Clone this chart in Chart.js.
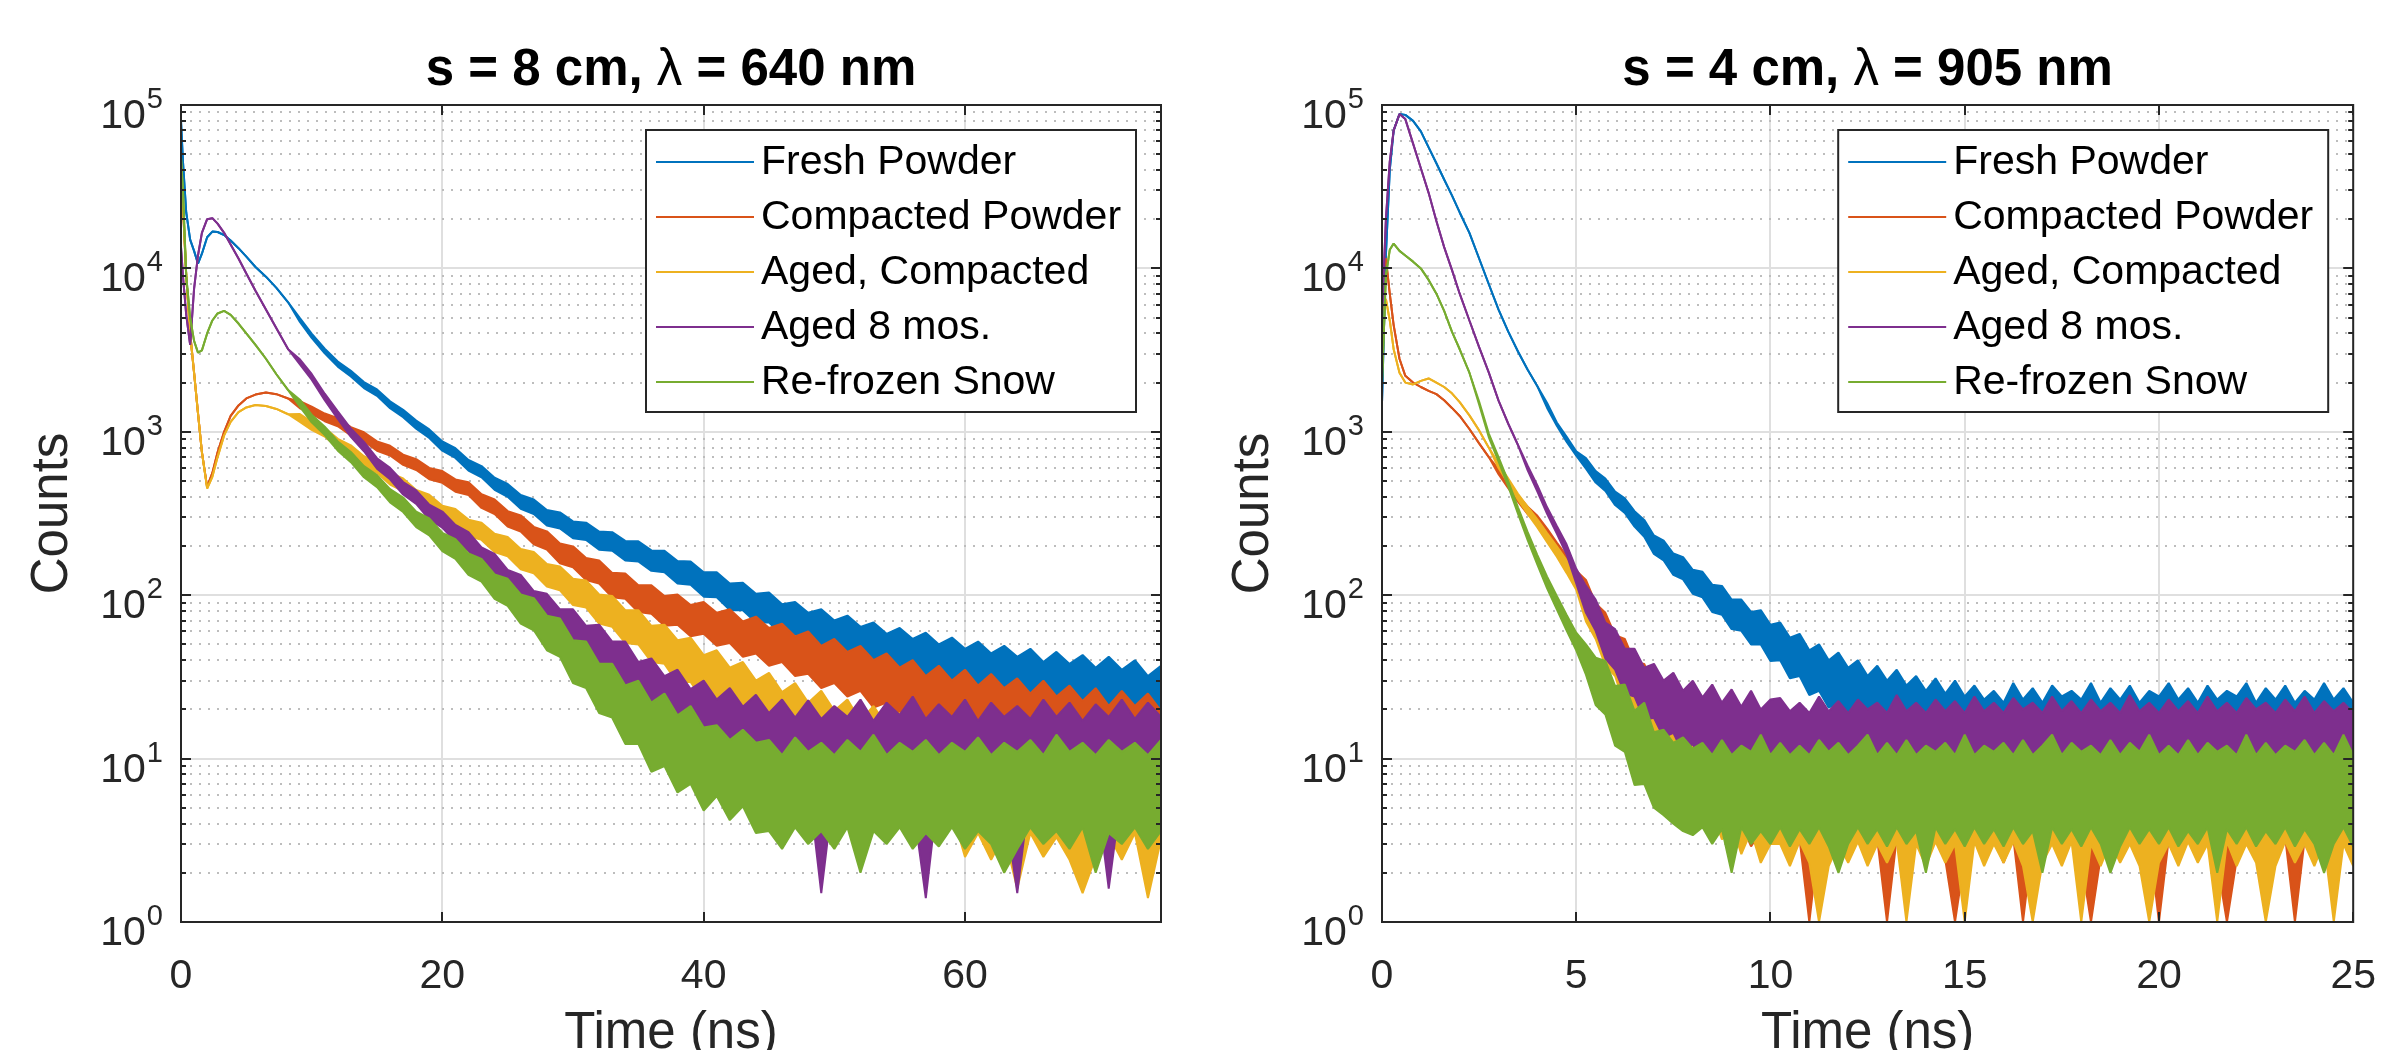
<!DOCTYPE html>
<html>
<head>
<meta charset="utf-8">
<title>Snow photon counts vs time</title>
<script src="https://cdn.jsdelivr.net/npm/chart.js@4.4.1/dist/chart.umd.min.js"></script>
<style>
  html, body { margin: 0; padding: 0; background: #fff; }
  .wrap { position: relative; width: 2406px; height: 1050px; overflow: hidden; }
  .panel { position: absolute; top: 0; width: 1203px; height: 1050px; }
  .panel canvas { display: block; }
  #panelL { left: 0; }
  #panelR { left: 1203px; }
</style>
</head>
<body>
<div class="wrap">
  <div class="panel" id="panelL"><canvas id="chartL" width="1203" height="1050"></canvas></div>
  <div class="panel" id="panelR"><canvas id="chartR" width="1203" height="1050"></canvas></div>
</div>
<script>
/* ============================================================
   Photon counts vs time for five snow samples, two panels.
   Each trace is kept as an upper / lower envelope of the noisy
   counts (identical where the curve is smooth).
   ============================================================ */

const seriesNames = ['Fresh Powder', 'Compacted Powder', 'Aged, Compacted', 'Aged 8 mos.', 'Re-frozen Snow'];
const seriesColors = ['#0072BD', '#D95319', '#EDB120', '#7E2F8E', '#77AC30'];
const yTickExps = [0, 1, 2, 3, 4, 5];

/* --- left panel: s = 8 cm, 640 nm (ns) --- */
const timeL = [0, 0.15, 0.4, 0.7, 1, 1.3, 1.6, 2, 2.4, 2.8, 3.3, 3.8, 4.4, 5, 5.7, 6.5, 7.3, 8.2,
  9.1, 10, 11, 12, 13, 14, 15, 16, 17, 18, 19, 20,
  21, 22, 23, 24, 25, 26, 27, 28, 29, 30, 31, 32, 33, 34, 35, 36, 37, 38, 39, 40,
  41, 42, 43, 44, 45, 46, 47, 48, 49, 50, 51, 52, 53, 54, 55, 56, 57, 58, 59, 60,
  61, 62, 63, 64, 65, 66, 67, 68, 69, 70, 71, 72, 73, 74, 75];

const freshHiL = [80000, 45000, 22000, 15000, 12800, 10700, 12300, 15500, 16800, 16700, 16000, 14800, 13300, 11800, 10200, 8900, 7600, 6200,
  4960, 3990, 3230, 2695, 2360, 2015, 1817, 1538, 1365, 1171, 1034, 873,
  794, 673, 617, 524, 480, 410, 385, 332, 321, 283, 278, 245, 243, 215, 214, 188, 187, 162, 161, 138,
  138, 118, 119, 102, 104, 88, 91, 78, 82, 70, 75, 64, 68, 58, 63, 54, 59, 50, 55, 47,
  52, 44, 49, 42, 47, 39, 45, 38, 43, 36, 42, 35, 40, 32, 37];
const freshLoL = [80000, 45000, 22000, 15000, 12800, 10700, 12300, 15500, 16800, 16700, 16000, 14800, 13300, 11800, 10200, 8900, 7600, 6200,
  4700, 3760, 3020, 2507, 2182, 1852, 1660, 1394, 1228, 1045, 916, 766,
  692, 579, 526, 441, 400, 338, 314, 267, 256, 223, 218, 190, 187, 163, 161, 141, 138, 118, 116, 98,
  97, 81, 81, 68, 68, 57, 58, 49, 50, 43, 45, 38, 40, 34, 36, 30, 33, 27, 30, 25,
  27, 23, 26, 21, 24, 20, 22, 18, 21, 17, 20, 16.5, 18.6, 15, 17];

const compactHiL = [30000, 24000, 9000, 4000, 2300, 1300, 750, 460, 560, 750, 1000, 1250, 1450, 1600, 1690, 1740, 1700, 1600,
  1538, 1427, 1293, 1210, 1068, 993, 873, 821, 725, 680, 601, 575,
  511, 491, 415, 385, 327, 308, 262, 246, 207, 199, 169, 163, 137, 136, 115, 115, 99, 101, 87, 91,
  78, 82, 69, 74, 63, 67, 56, 60, 49, 54, 45, 49, 40, 44, 36, 40, 32, 37, 30, 35,
  28, 33, 27, 31, 25, 30, 24, 28, 22.5, 27, 21, 26, 21, 25, 19.6];
const compactLoL = [30000, 24000, 9000, 4000, 2300, 1300, 750, 460, 560, 750, 1000, 1250, 1450, 1600, 1690, 1740, 1700, 1600,
  1394, 1287, 1161, 1081, 949, 876, 766, 716, 627, 584, 513, 487,
  430, 410, 342, 314, 263, 245, 205, 190, 157, 148, 124, 118, 97, 95, 79, 77, 65, 66, 56, 58,
  49, 51, 42, 44, 37, 39, 32, 33, 27, 29, 24, 26, 20.5, 22, 17.3, 19, 15, 17, 13.5, 15,
  12, 14, 11.2, 12.7, 10.1, 11.9, 9.4, 11, 8.6, 10.3, 7.9, 9.4, 7.6, 9, 6.9];

const agedHiL = [32000, 26000, 9000, 4000, 2300, 1300, 750, 450, 530, 700, 950, 1150, 1320, 1410, 1460, 1440, 1380, 1280,
  1283, 1149, 1055, 905, 826, 709, 654, 560, 518, 441, 412, 353,
  337, 290, 278, 238, 227, 192, 184, 155, 150, 126, 123, 101, 99, 81, 81, 65, 66, 53, 55, 43,
  46, 36, 39, 30, 33.5, 25.5, 29, 22, 26, 19.6, 23, 17, 21, 16, 19, 14.7, 17.5, 13.5, 16, 11.5,
  14.5, 11.5, 15, 11, 14, 11.5, 15, 11, 14.5, 11, 14, 11.5, 15, 11, 14];
const agedLoL = [32000, 26000, 9000, 4000, 2300, 1300, 750, 450, 530, 700, 950, 1150, 1320, 1410, 1460, 1440, 1380, 1280,
  1150, 1026, 935, 795, 720, 613, 560, 475, 434, 366, 338, 286,
  271, 230, 218, 184, 173, 144, 136, 113, 107, 87, 84, 67, 64, 51, 50, 39, 38, 29, 29.5, 22.5,
  23, 17.3, 18.2, 13.5, 14.4, 10.5, 11.5, 8.3, 9.4, 6.9, 7.8, 5.5, 6.7, 4.8, 5.9, 4.2, 5.1, 3.5, 4.75, 2.5,
  3.5, 2.4, 3.4, 1.6, 3.5, 2.5, 3.3, 2.4, 1.5, 2.5, 3.4, 2.4, 3.5, 1.4, 3.2];

const aged8HiL = [13500, 9000, 5200, 3400, 7500, 12000, 16500, 20000, 20300, 18800, 16500, 14000, 11500, 9300, 7300, 5600, 4300, 3200,
  2778, 2260, 1711, 1334, 1047, 868, 689, 602, 493, 438, 358, 325,
  269, 243, 196, 179, 143, 133, 106, 102, 82, 82, 65, 66, 52, 52, 39, 41, 32, 35, 26.6, 30,
  23, 27, 20.8, 24.6, 19, 23, 17.8, 22.7, 17.5, 21, 18, 23, 17, 22, 18.5, 24, 17.5, 21.5, 18, 23,
  17, 22, 18, 21, 17.5, 23, 18, 22, 17, 21.5, 18, 23, 17.5, 22, 18];
const aged8LoL = [13500, 9000, 5200, 3400, 7500, 12000, 16500, 20000, 20300, 18800, 16500, 14000, 11500, 9300, 7300, 5600, 4300, 3200,
  2584, 2083, 1559, 1199, 930, 760, 594, 512, 413, 362, 291, 259,
  212, 187, 147, 131, 102, 92, 71, 67, 52, 50.5, 38.6, 38, 28.6, 27, 19.7, 19.9, 14.6, 15.2, 11.2, 12.3,
  9, 10.3, 7.6, 8.6, 6.5, 7.8, 5.8, 7.4, 1.5, 7, 5.5, 7.2, 6, 4.5, 7, 5.5, 1.4, 7, 5.8, 6.8,
  4.5, 7, 5.5, 1.5, 6.8, 5, 7.2, 5.5, 4.8, 7, 1.6, 6.5, 5.5, 7, 5.8];

const refrozenHiL = [48000, 30000, 9000, 5000, 3600, 3050, 3150, 4000, 4800, 5300, 5500, 5200, 4600, 4000, 3400, 2800, 2250, 1800,
  1572, 1272, 1075, 873, 753, 617, 543, 446, 396, 325, 295, 241,
  220, 180, 167, 134, 126, 101, 96, 75, 72, 53, 52, 38, 38, 28, 30, 22, 25, 18.4, 21, 15.5,
  16, 13, 15, 12.5, 13, 10.5, 13.5, 11, 12.5, 10.5, 13, 11, 14, 10.5, 12.5, 11, 13, 10.5, 12.5, 11,
  13.5, 10.5, 12.5, 11, 13, 10.5, 14, 11, 12.5, 10.5, 13, 11, 12.5, 10.5, 13];
const refrozenLoL = [48000, 30000, 9000, 5000, 3600, 3050, 3150, 4000, 4800, 5300, 5500, 5200, 4600, 4000, 3400, 2800, 2250, 1800,
  1424, 1142, 955, 766, 652, 527, 458, 370, 323, 261, 232, 186,
  167, 133, 121, 95, 86, 67, 61, 46, 42, 29, 27, 19, 17.8, 12.3, 12.3, 8.3, 9, 6.2, 7, 4.8,
  5.9, 4.2, 5.1, 3.5, 3.6, 2.8, 3.8, 3, 3.6, 2.8, 3.8, 2, 3.6, 3, 3.8, 2.8, 3.5, 2.9, 3.8, 2.8,
  3.6, 3, 2, 2.8, 3.8, 3, 3.6, 2.8, 3.8, 2, 3.5, 3, 3.8, 2.8, 3.6];

/* --- right panel: s = 4 cm, 905 nm (ns) --- */
const timeR = [0, 0.1, 0.2, 0.3, 0.45, 0.6, 0.8, 1, 1.2, 1.4, 1.6, 1.8, 2, 2.25, 2.5, 2.75, 3, 3.25, 3.5, 3.75, 4, 4.25, 4.5, 4.75, 5,
  5.25, 5.5, 5.75, 6, 6.25, 6.5, 6.75, 7, 7.25, 7.5, 7.75, 8, 8.25, 8.5, 8.75, 9, 9.25, 9.5, 9.75, 10,
  10.25, 10.5, 10.75, 11, 11.25, 11.5, 11.75, 12, 12.25, 12.5, 12.75, 13, 13.25, 13.5, 13.75, 14, 14.25, 14.5, 14.75, 15,
  15.25, 15.5, 15.75, 16, 16.25, 16.5, 16.75, 17, 17.25, 17.5, 17.75, 18, 18.25, 18.5, 18.75, 19, 19.25, 19.5, 19.75, 20,
  20.25, 20.5, 20.75, 21, 21.25, 21.5, 21.75, 22, 22.25, 22.5, 22.75, 23, 23.25, 23.5, 23.75, 24, 24.25, 24.5, 24.75, 25];

const freshHiR = [1500, 12000, 40000, 70000, 88000, 87000, 80000, 69000, 55000, 44000, 35000, 28000, 22000, 16500, 11500, 8000, 5600, 4100, 3100, 2400, 1900, 1500, 1140, 935, 760,
  690, 575, 518, 431, 391, 327, 289, 232, 216, 180, 171, 143, 139, 116, 114, 94, 94, 79, 81, 66,
  68, 55, 58, 46, 50, 40, 44.5, 36, 40, 32, 37, 30, 35, 28, 32, 26, 31, 25, 30, 24,
  28, 23, 26, 22, 29, 23, 27, 22, 28, 24, 26, 23, 29, 22, 27, 23, 28, 22, 26, 24,
  29, 23, 27, 22, 28, 23, 26, 24, 29, 22, 27, 23, 28, 22, 26, 23, 29, 23, 27, 22];
const freshLoR = [1500, 12000, 40000, 70000, 88000, 87000, 80000, 69000, 55000, 44000, 35000, 28000, 22000, 16500, 11500, 8000, 5600, 4100, 3100, 2400, 1900, 1400, 1090, 870, 715,
  594, 489, 434, 356, 319, 263, 228, 179, 163, 133, 125, 102, 97, 79, 76, 62, 60.5, 50, 50, 39.5,
  40, 31, 32, 24.5, 26, 20.5, 22, 17.3, 19, 15, 17, 13.5, 15, 12, 13.5, 10.8, 12.7, 10.1, 11.9, 9.4,
  11, 9, 11.5, 9, 10.5, 9.5, 11, 8.5, 11, 9, 10.5, 9, 11.5, 9, 10.5, 8.5, 11, 9.5, 11, 9,
  10.5, 9, 11.5, 8.5, 11, 9, 10.5, 9.5, 11, 9, 11, 8.5, 10.5, 9, 11.5, 9, 11, 9, 10.5, 9];

const compactHiR = [9000, 11500, 7000, 4500, 2800, 2200, 2000, 1880, 1780, 1700, 1560, 1400, 1250, 1040, 850, 700, 590, 490, 408, 348, 306, 256, 210, 174, 141,
  124, 89, 78, 57, 54, 39, 38, 28, 29, 20.8, 24, 17, 20.7, 14.7, 18, 12.8, 16.7, 12.2, 16,
  11, 11.5, 9, 12, 9.5, 11, 14, 9, 11.5, 9.5, 12,
  9, 11, 9.5, 14.5, 9, 11.5, 9.5, 11, 9, 12,
  9.5, 11, 14, 9, 11.5, 9.5, 12, 9, 11, 9.5,
  11.5, 9, 14, 9.5, 11, 9, 12, 9.5, 11, 9,
  11.5, 9.5, 12, 9, 14, 9.5, 11, 9, 11.5, 9.5,
  12, 9, 11, 9.5, 11.5, 9, 14, 9.5, 11, 9];
const compactLoR = [9000, 11500, 7000, 4500, 2800, 2200, 2000, 1880, 1780, 1700, 1560, 1400, 1250, 1040, 850, 700, 550, 452, 374, 313, 275, 225, 181, 147, 116,
  84, 57, 48, 33, 29, 19.7, 17.8, 12, 11.5, 7.6, 8.2, 5.5, 6.3, 4.2, 4.75, 3.2, 4, 2.9, 3.6,
  3.3, 3.3, 2.4, 3.2, 1, 3.3, 2.5, 3.2, 2.4, 3.3, 2.3,
  3.2, 1, 3.3, 2.4, 3.2, 2.5, 3.3, 2.4, 1, 2.5,
  3.3, 2.4, 3.2, 2.3, 3.3, 1, 3.2, 2.4, 3.3, 2.5,
  3.2, 2.4, 1, 2.5, 3.3, 2.4, 3.2, 2.3, 3.3, 1,
  3.2, 2.5, 3.3, 2.4, 3.2, 2.3, 1, 2.4, 3.3, 2.5,
  3.2, 2.4, 3.3, 1, 3.2, 2.5, 3.3, 2.4, 3.2, 2.3];

const agedHiR = [5500, 6500, 4800, 3200, 2300, 2000, 1950, 2050, 2120, 2000, 1880, 1720, 1520, 1260, 1020, 800, 640, 518, 417, 347, 291, 240, 199, 164, 133,
  103, 86, 63, 58, 41.5, 41, 29, 30, 20.8, 23, 16.5, 20, 14, 18, 12.8, 16.7, 11.6, 16, 11,
  10.5, 10.5, 13.5, 10, 12, 10.5, 14, 10, 12.5, 10.5, 13,
  10, 12, 10.5, 14.5, 10, 12, 10.5, 13, 10, 12.5,
  10.5, 14, 10, 12, 10.5, 13, 10, 12.5, 10.5, 14,
  10, 12, 10.5, 13.5, 10, 12, 10.5, 14, 10, 12.5,
  10.5, 13, 10, 12, 10.5, 14.5, 10, 12, 10.5, 13,
  10, 12.5, 10.5, 14, 10, 12, 10.5, 13, 10, 12];
const agedLoR = [5500, 6500, 4800, 3200, 2300, 2000, 1950, 2050, 2120, 2000, 1880, 1720, 1520, 1260, 1020, 800, 600, 482, 384, 314, 260, 211, 172, 137, 108,
  69, 54, 37, 32, 21, 19.5, 12.7, 11.9, 7.6, 7.8, 5.2, 5.9, 3.9, 4.75, 3.2, 4, 2.6, 3.6, 2.3,
  3, 3, 2.2, 3.1, 2.3, 1, 2.2, 3, 2.3, 3.1, 2.2,
  3, 2.3, 3.1, 1, 3, 2.2, 3.1, 2.3, 3, 1,
  3.1, 2.2, 3, 2.3, 3.1, 2.2, 1, 2.3, 3, 2.2,
  3.1, 1, 3, 2.2, 3.1, 2.3, 3, 2.2, 1, 2.3,
  3, 2.2, 3.1, 2.3, 3, 1, 3.1, 2.2, 3, 2.3,
  1, 2.2, 3.1, 2.3, 3, 2.2, 3.1, 1, 3, 2.2];

const aged8HiR = [5000, 20000, 45000, 70000, 88000, 82000, 58000, 41000, 29000, 19500, 13500, 9800, 7000, 4800, 3300, 2300, 1550, 1120, 830, 620, 470, 345, 265, 205, 145,
  114, 94, 68, 62, 47, 47, 36, 38, 30, 33.5, 26, 30, 23.7, 28.4, 22, 26.5, 20.8, 26, 20,
  23, 23.5, 19.5, 22, 19, 24, 19.5, 22.5, 19, 23, 20,
  22, 19, 24.5, 19.5, 22, 19, 23, 19.5, 22.5, 19,
  24, 19.5, 22, 19, 23.5, 20, 22, 19, 24, 19.5,
  22.5, 19, 23, 19.5, 22, 19, 24.5, 19.5, 22, 19,
  23, 19.5, 22.5, 19, 24, 19.5, 22, 19, 23.5, 20,
  22, 19, 23, 19.5, 24, 19, 22.5, 19.5, 22, 19];
const aged8LoR = [5000, 20000, 45000, 70000, 88000, 82000, 58000, 41000, 29000, 19500, 13500, 9800, 7000, 4800, 3300, 2300, 1550, 1120, 830, 580, 430, 315, 238, 178, 118,
  78, 60.5, 41, 35, 25, 24, 17.3, 17.8, 13.5, 14.4, 10.8, 12.3, 9.4, 11, 8.3, 9.8, 7.6, 9.4, 7.2,
  8.6, 8.6, 7, 8.5, 6.8, 8.7, 7, 8.4, 6.9, 8.6, 7,
  8.5, 6.8, 8.6, 7, 8.4, 6.9, 8.7, 7, 8.5, 6.8,
  8.6, 7, 8.5, 6.9, 8.7, 6.8, 8.4, 7, 8.6, 6.9,
  8.5, 7, 8.6, 6.8, 8.4, 7, 8.7, 6.9, 8.5, 7,
  8.6, 6.9, 8.5, 7, 8.7, 6.8, 8.4, 7, 8.6, 6.9,
  8.5, 7, 8.6, 6.9, 8.4, 7, 8.7, 6.8, 8.5, 7];

const refrozenHiR = [2000, 9000, 13000, 14200, 12800, 12000, 11000, 10000, 8500, 7000, 5500, 4100, 3200, 2300, 1530, 975, 700, 497, 345, 243, 176, 130, 99, 76, 59,
  50, 41.5, 39.6, 27.8, 28.4, 19.6, 22, 14.5, 15, 12.5, 13.5, 11.5,
  12.5, 10.5, 13, 10.5, 12, 11, 14, 10.5, 12.5, 10.5,
  12, 10.5, 13, 11, 12.5, 10.5, 12, 14, 10.5, 12.5,
  10.5, 13, 10.5, 12, 11, 12.5, 10.5, 14, 10.5, 12,
  11, 12.5, 10.5, 13, 10.5, 12, 14, 10.5, 12.5, 11,
  12, 10.5, 13, 10.5, 12.5, 11, 14, 10.5, 12, 10.5,
  13, 10.5, 12.5, 11, 12, 10.5, 14, 10.5, 12.5, 10.5,
  12, 11, 13, 10.5, 12.5, 10.5, 14, 10.5];
const refrozenLoR = [2000, 9000, 13000, 14200, 12800, 12000, 11000, 10000, 8500, 7000, 5500, 4100, 3200, 2300, 1470, 925, 660, 463, 315, 217, 154, 110, 82, 61, 46,
  32.6, 21.3, 18.6, 12, 11, 6.9, 7, 5, 4.5, 4, 3.6, 3.4,
  3.8, 3, 3.7, 2, 3.8, 3, 3.6, 3, 3.8, 2.9,
  3.7, 3, 3.8, 2.9, 2, 3, 3.8, 3, 3.7, 2.9,
  3.8, 3, 3.6, 2, 3.8, 3, 3.7, 2.9, 3.8, 3,
  3.7, 2.9, 3.8, 3, 3.6, 2, 3.8, 3, 3.7, 2.9,
  3.8, 3, 2, 2.9, 3.8, 3, 3.7, 3, 3.8, 2.9,
  3.6, 3, 3.8, 2, 3.7, 3, 3.8, 2.9, 3.6, 3,
  3.8, 2.9, 3.7, 3, 2, 3, 3.8, 2.9];

/* --- drawing --- */
(function () {
  'use strict';

  const FONT = "'Liberation Sans', Arial, Helvetica, sans-serif";
  const INK = '#262626';
  const GRID = '#dfdfdf';

  const isDecade = (v) => Math.abs(Math.log10(v) - Math.round(Math.log10(v))) < 1e-9;

  function buildDatasets(time, bands) {
    const sets = [];
    bands.forEach((band, i) => {
      const base = {
        borderColor: seriesColors[i],
        backgroundColor: seriesColors[i],
        borderWidth: 2,
        borderJoinStyle: 'bevel',
        pointRadius: 0,
        tension: 0,
        order: bands.length - i
      };
      sets.push(Object.assign({ label: seriesNames[i] + ' (low)', fill: false,
        data: time.map((t, k) => ({ x: t, y: band.lo[k] })) }, base));
      sets.push(Object.assign({ label: seriesNames[i], fill: 2 * i,
        data: time.map((t, k) => ({ x: t, y: band.hi[k] })) }, base));
    });
    return sets;
  }

  // MATLAB-like axes: dotted minor grid, box with inner ticks, legend, labels
  const matlabAxes = {
    id: 'matlabAxes',
    beforeDatasetsDraw(chart) {
      const { ctx, chartArea: a, scales: { y } } = chart;
      ctx.save();
      ctx.strokeStyle = '#bdbdbd';
      ctx.lineWidth = 2;
      ctx.setLineDash([2, 7]);
      yTickExps.slice(0, -1).forEach((e) => {
        for (let m = 2; m <= 9; m++) {
          const py = Math.round(y.getPixelForValue(m * Math.pow(10, e)));
          ctx.beginPath();
          ctx.moveTo(a.left, py);
          ctx.lineTo(a.right, py);
          ctx.stroke();
        }
      });
      ctx.restore();
    },
    afterDatasetsDraw(chart) {
      const { ctx, chartArea: a, scales: { x, y } } = chart;
      ctx.save();
      ctx.strokeStyle = INK;
      ctx.lineWidth = 2;
      ctx.beginPath();
      yTickExps.forEach((e) => {
        for (let m = 1; m <= 9; m++) {
          if (e === yTickExps[yTickExps.length - 1] && m > 1) break;
          const py = Math.round(y.getPixelForValue(m * Math.pow(10, e)));
          const len = m === 1 ? 10 : 5;
          ctx.moveTo(a.left, py); ctx.lineTo(a.left + len, py);
          ctx.moveTo(a.right, py); ctx.lineTo(a.right - len, py);
        }
      });
      x.ticks.forEach((tk) => {
        const px = Math.round(x.getPixelForValue(tk.value));
        ctx.moveTo(px, a.bottom); ctx.lineTo(px, a.bottom - 10);
        ctx.moveTo(px, a.top); ctx.lineTo(px, a.top + 10);
      });
      ctx.stroke();
      ctx.strokeRect(a.left, a.top, a.right - a.left, a.bottom - a.top);

      // legend
      const lw = 490, lh = 282;
      const lx = a.right - 25 - lw, ly = a.top + 25;
      ctx.fillStyle = '#fff';
      ctx.fillRect(lx, ly, lw, lh);
      ctx.strokeStyle = INK;
      ctx.strokeRect(lx, ly, lw, lh);
      ctx.font = '41px ' + FONT;
      ctx.textAlign = 'left';
      ctx.textBaseline = 'middle';
      seriesNames.forEach((name, i) => {
        const cy = ly + 32 + i * 55;
        ctx.strokeStyle = seriesColors[i];
        ctx.beginPath();
        ctx.moveTo(lx + 10, cy);
        ctx.lineTo(lx + 108, cy);
        ctx.stroke();
        ctx.fillStyle = '#000';
        ctx.fillText(name, lx + 115, cy + 1);
      });
      ctx.restore();
    },
    afterDraw(chart, args, opts) {
      const { ctx, chartArea: a, scales: { y } } = chart;
      ctx.save();

      // y tick labels 10^n
      ctx.fillStyle = INK;
      ctx.textAlign = 'right';
      ctx.textBaseline = 'alphabetic';
      yTickExps.forEach((e) => {
        const py = y.getPixelForValue(Math.pow(10, e));
        ctx.font = '29px ' + FONT;
        const sup = String(e);
        const sw = ctx.measureText(sup).width;
        ctx.fillText(sup, a.left - 18, py + 3);
        ctx.font = '41px ' + FONT;
        ctx.fillText('10', a.left - 19 - sw, py + 23);
      });

      // axis titles
      ctx.textAlign = 'center';
      ctx.font = '51px ' + FONT;
      ctx.fillText('Time (ns)', (a.left + a.right) / 2, 1048);
      ctx.save();
      ctx.translate(a.left - 128, (a.top + a.bottom) / 2);
      ctx.rotate(-Math.PI / 2);
      ctx.textBaseline = 'middle';
      ctx.fillText('Counts', 0, 0);
      ctx.restore();

      // title (lambda in regular weight)
      const parts = opts.title;
      const fonts = ['bold 51px ' + FONT, '51px ' + FONT, 'bold 51px ' + FONT];
      let w = 0;
      parts.forEach((p, i) => { ctx.font = fonts[i]; w += ctx.measureText(p).width; });
      let tx = (a.left + a.right) / 2 - w / 2;
      ctx.fillStyle = '#000';
      ctx.textAlign = 'left';
      parts.forEach((p, i) => {
        ctx.font = fonts[i];
        ctx.fillText(p, tx, 85);
        tx += ctx.measureText(p).width;
      });
      ctx.restore();
    }
  };

  function makeChart(canvasId, time, bands, cfg) {
    const plotWidth = 980;
    return new Chart(document.getElementById(canvasId), {
      type: 'line',
      data: { datasets: buildDatasets(time, bands) },
      options: {
        responsive: false,
        animation: false,
        parsing: false,
        events: [],
        layout: { padding: { top: 105, right: 1203 - cfg.left - plotWidth, bottom: 0, left: 0 } },
        plugins: {
          legend: { display: false },
          tooltip: { enabled: false },
          matlabAxes: { title: cfg.title }
        },
        scales: {
          x: {
            type: 'linear',
            min: 0,
            max: cfg.xMax,
            afterFit: (s) => { s.height = 128; },
            ticks: {
              stepSize: cfg.xStep,
              includeBounds: false,
              maxRotation: 0,
              padding: 30,
              color: INK,
              font: { family: FONT, size: 41 }
            },
            grid: { color: GRID, lineWidth: 2, drawTicks: false },
            border: { display: false }
          },
          y: {
            type: 'logarithmic',
            min: 1,
            max: 100000,
            afterFit: (s) => { s.width = cfg.left; },
            ticks: { display: false, autoSkip: false },
            grid: {
              color: (c) => (c.tick && isDecade(c.tick.value)) ? GRID : 'rgba(0,0,0,0)',
              lineWidth: 2,
              drawTicks: false
            },
            border: { display: false }
          }
        }
      },
      plugins: [matlabAxes]
    });
  }

  makeChart('chartL', timeL, [
    { hi: freshHiL, lo: freshLoL },
    { hi: compactHiL, lo: compactLoL },
    { hi: agedHiL, lo: agedLoL },
    { hi: aged8HiL, lo: aged8LoL },
    { hi: refrozenHiL, lo: refrozenLoL }
  ], { left: 181, xMax: 75, xStep: 20, title: ['s = 8 cm, ', '\u03bb', ' = 640 nm'] });

  makeChart('chartR', timeR, [
    { hi: freshHiR, lo: freshLoR },
    { hi: compactHiR, lo: compactLoR },
    { hi: agedHiR, lo: agedLoR },
    { hi: aged8HiR, lo: aged8LoR },
    { hi: refrozenHiR, lo: refrozenLoR }
  ], { left: 179, xMax: 25, xStep: 5, title: ['s = 4 cm, ', '\u03bb', ' = 905 nm'] });
})();
</script>
</body>
</html>
